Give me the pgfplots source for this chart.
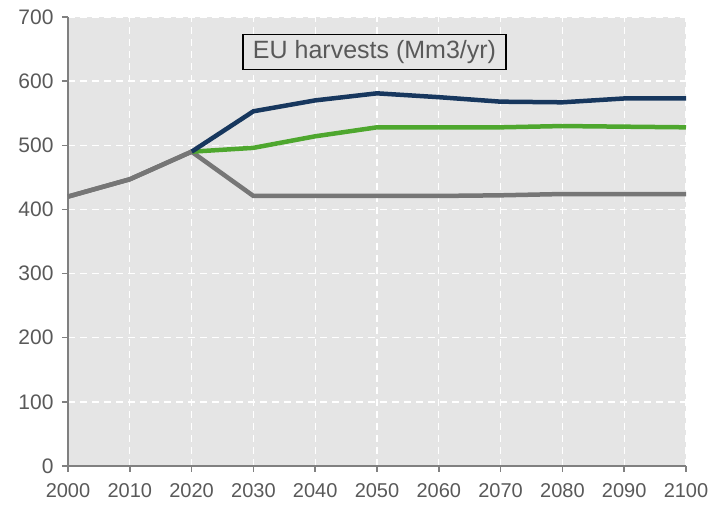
\documentclass[border=0pt]{standalone}
\usepackage{pgfplots}
\pgfplotsset{compat=1.18}
\usepackage{fontspec}
\setmainfont{Liberation Sans}
\definecolor{bgc}{HTML}{E5E5E5}
\definecolor{axc}{HTML}{808080}
\definecolor{txc}{HTML}{595959}
\definecolor{blu}{HTML}{17375E}
\definecolor{grn}{HTML}{4EA72E}
\definecolor{gry}{HTML}{767676}
\begin{document}
\begin{tikzpicture}
\path[use as bounding box] (-68pt,-39pt) rectangle (645pt,466pt);
\begin{axis}[
  scale only axis, width=618pt, height=449pt,
  at={(0,0)}, anchor=south west,
  xmin=2000, xmax=2100, ymin=0, ymax=700,
  xtick={2000,2010,...,2100}, ytick={0,100,...,700},
  /pgf/number format/assume math mode=true,
  xticklabel style={/pgf/number format/1000 sep={}, font=\fontsize{20pt}{21pt}\selectfont, text=txc, yshift=-8pt},
  yticklabel style={font=\fontsize{21pt}{22pt}\selectfont, text=txc, xshift=-5pt},
  axis background/.style={fill=bgc},
  axis x line*=bottom, axis y line*=left,
  axis line style={draw=axc, line width=2.5pt, -},
  tick style={draw=axc, line width=1.5pt},
  tick align=outside, major tick length=6pt,
  grid=major, major grid style={white, line width=1.3pt, dash pattern=on 7pt off 5pt},
  clip=false,
]
\addplot[gry, line width=4.5pt] coordinates {(2000,420)(2010,447)(2020,490)(2030,421)(2040,421)(2050,421)(2060,421)(2070,422)(2080,424)(2090,424)(2100,424)};
\addplot[grn, line width=4.5pt] coordinates {(2020,490)(2030,496)(2040,514)(2050,528)(2060,528)(2070,528)(2080,530)(2090,529)(2100,528)};
\addplot[blu, line width=4.5pt] coordinates {(2020,490)(2030,553)(2040,570)(2050,581)(2060,575)(2070,568)(2080,567)(2090,573)(2100,573)};
\addplot[gry, line width=4.5pt] coordinates {(2000,420)(2010,447)(2020,490)};
\node[draw=black, line width=1.5pt, fill=bgc, text=txc, font=\fontsize{25pt}{26pt}\selectfont, inner xsep=10pt, inner ysep=6pt] at (axis cs:2049.6,645.5) {EU harvests (Mm3/yr)};
\end{axis}
\end{tikzpicture}
\end{document}
